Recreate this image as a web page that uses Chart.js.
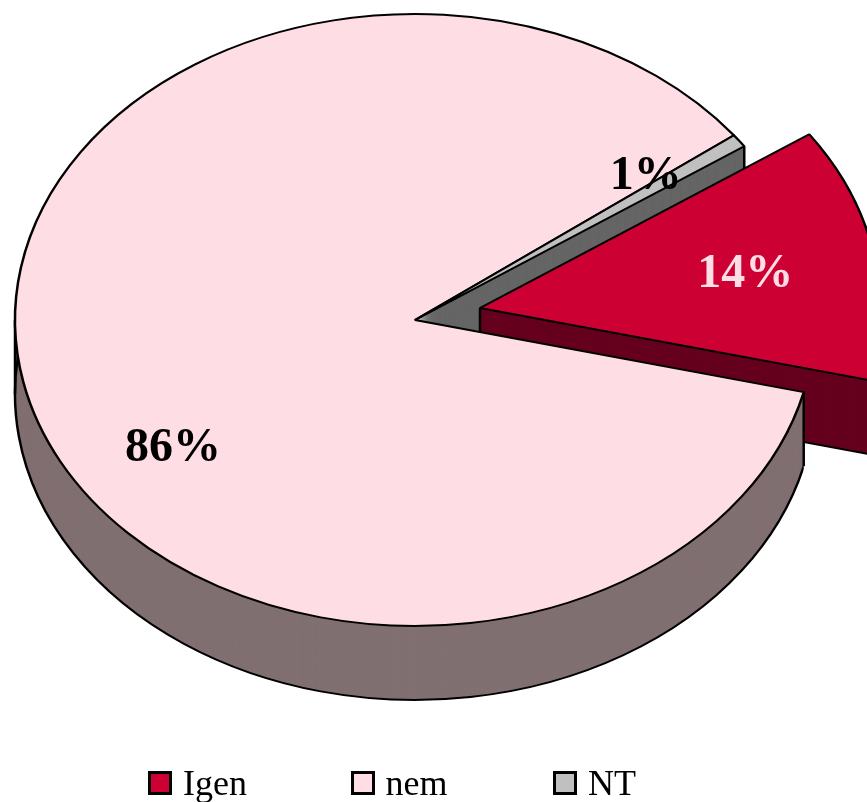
<!DOCTYPE html>
<html>
<head>
<meta charset="utf-8">
<title>Igen / nem / NT</title>
<script src="https://cdn.jsdelivr.net/npm/chart.js@4/dist/chart.umd.min.js"></script>
<style>
  html, body { margin: 0; padding: 0; background: #fff; overflow: hidden; }
  #wrap { position: relative; width: 867px; height: 802px; }
  #legend { position: absolute; left: 148px; top: 762px; display: flex;
            font: 36px "Liberation Serif", serif; color: #000; line-height: 42px; }
  #legend div { width: 202.5px; white-space: nowrap; display: flex; align-items: center; }
  #legend i { display: block; box-sizing: border-box; width: 24px; height: 24px; margin-right: 11px;
              border: 3px solid #000; }
</style>
</head>
<body>
<div id="wrap">
  <canvas id="mycanvas" width="867" height="802"></canvas>
  <div id="legend"></div>
</div>
<script>
var categories = ['Igen', 'nem', 'NT'];
var shares = [13.4, 85.9, 0.7];
var percentLabels = ['14%', '86%', '1%'];
var topColors = ['#CC0033', '#FFDDE5', '#C0C0C0'];
var wallColors = ['#66001F', '#807072', '#666666'];
var labelColors = ['#FFDDE5', '#000000', '#000000'];

// look of the tilted pie
var squash = 0.765;
var depth = 74;
var pieRadius = 400;
var firstSliceAngle = 55.4;
var explodeX = 65, explodeY = -15.7;
var outline = 2.5;
// where the percent labels sit: share of radius, turn away from mid angle (degrees)
var labelRadius = [0.672, 0.736, 0.744];
var labelTurn = [1, -23, -3.3];

function wedge(ctx, arc) {
  ctx.beginPath();
  ctx.moveTo(arc.x, arc.y);
  ctx.arc(arc.x, arc.y, arc.outerRadius, arc.startAngle, arc.endAngle);
  ctx.closePath();
}

function drawWall(ctx, arc, color) {
  var d = depth / squash;
  ctx.fillStyle = color;
  for (var i = d; i > 0; i -= 0.5) {
    ctx.save();
    ctx.translate(0, i);
    wedge(ctx, arc);
    ctx.fill();
    ctx.restore();
  }
  // bottom rim only, the cut sides stay hidden
  ctx.save();
  ctx.translate(0, d);
  ctx.beginPath();
  ctx.arc(arc.x, arc.y, arc.outerRadius, arc.startAngle, arc.endAngle);
  ctx.strokeStyle = '#000';
  ctx.lineWidth = outline;
  ctx.stroke();
  ctx.restore();
}

function drawEdge(ctx, x, y) {
  ctx.beginPath();
  ctx.moveTo(x, y);
  ctx.lineTo(x, y + depth / squash);
  ctx.strokeStyle = '#000';
  ctx.lineWidth = outline;
  ctx.stroke();
}

function rimPoint(arc, angle) {
  return {
    x: arc.x + arc.outerRadius * Math.cos(angle),
    y: arc.y + arc.outerRadius * Math.sin(angle)
  };
}

var tiltedPie = {
  id: 'tiltedPie',
  afterDatasetsUpdate: function(chart) {
    var igen = chart.getDatasetMeta(0).data[0];
    igen.x += explodeX;
    igen.y += explodeY;
  },
  beforeDatasetsDraw: function(chart) {
    var ctx = chart.ctx;
    var arcs = chart.getDatasetMeta(0).data;
    var igen = arcs[0], nem = arcs[1], nt = arcs[2];
    ctx.save();
    ctx.translate(nem.x, nem.y);
    ctx.scale(1, squash);
    ctx.translate(-nem.x, -nem.y);

    // back to front
    drawWall(ctx, nt, wallColors[2]);
    var c = rimPoint(nt, nt.endAngle);
    drawEdge(ctx, c.x, c.y);

    drawWall(ctx, igen, wallColors[0]);
    drawEdge(ctx, igen.x, igen.y);
    c = rimPoint(igen, igen.endAngle);
    drawEdge(ctx, c.x, c.y);
    // lower side of the red wall
    ctx.beginPath();
    ctx.moveTo(igen.x, igen.y + depth / squash);
    ctx.lineTo(c.x, c.y + depth / squash);
    ctx.strokeStyle = '#000';
    ctx.lineWidth = outline;
    ctx.stroke();

    // only the front of the big slice may cover the red one
    var p = rimPoint(nem, nem.startAngle);
    var q = rimPoint(nem, nem.startAngle + Math.PI);
    ctx.save();
    ctx.beginPath();
    ctx.moveTo(p.x, p.y);
    ctx.lineTo(q.x - 50, q.y);
    ctx.lineTo(q.x - 50, nem.y + 2 * pieRadius);
    ctx.lineTo(p.x, nem.y + 2 * pieRadius);
    ctx.closePath();
    ctx.clip();
    drawWall(ctx, nem, wallColors[1]);
    ctx.restore();
    drawEdge(ctx, p.x, p.y);
    drawEdge(ctx, nem.x - nem.outerRadius, nem.y);
  },
  afterDatasetsDraw: function(chart) {
    var ctx = chart.ctx;
    ctx.restore();
    var arcs = chart.getDatasetMeta(0).data;
    var cy = arcs[1].y;
    ctx.save();
    ctx.font = 'bold 48px "Liberation Serif", serif';
    ctx.textAlign = 'center';
    ctx.textBaseline = 'middle';
    arcs.forEach(function(arc, i) {
      var a = (arc.startAngle + arc.endAngle) / 2 + labelTurn[i] * Math.PI / 180;
      var r = arc.outerRadius * labelRadius[i];
      var x = arc.x + r * Math.cos(a);
      var y = cy + (arc.y - cy + r * Math.sin(a)) * squash;
      ctx.fillStyle = labelColors[i];
      ctx.fillText(percentLabels[i], x, y);
    });
    ctx.restore();
  }
};

var ctx = document.getElementById('mycanvas');

var PieChart = new Chart(ctx, {
  type: 'pie',
  data: {
    labels: categories,
    datasets: [
      {
        data: shares,
        backgroundColor: topColors,
        borderColor: '#000',
        borderWidth: outline,
        clip: false
      }
    ]
  },
  options: {
    responsive: false,
    animation: false,
    rotation: firstSliceAngle,
    radius: pieRadius,
    layout: { padding: { right: 37, bottom: 162 } },
    plugins: {
      legend: { display: false },
      tooltip: { enabled: false }
    }
  },
  plugins: [tiltedPie]
});

var legend = document.getElementById('legend');
for (var i in categories) {
  var item = document.createElement('div');
  var box = document.createElement('i');
  box.style.background = topColors[i];
  item.appendChild(box);
  item.appendChild(document.createTextNode(categories[i]));
  legend.appendChild(item);
}
</script>
</body>
</html>
